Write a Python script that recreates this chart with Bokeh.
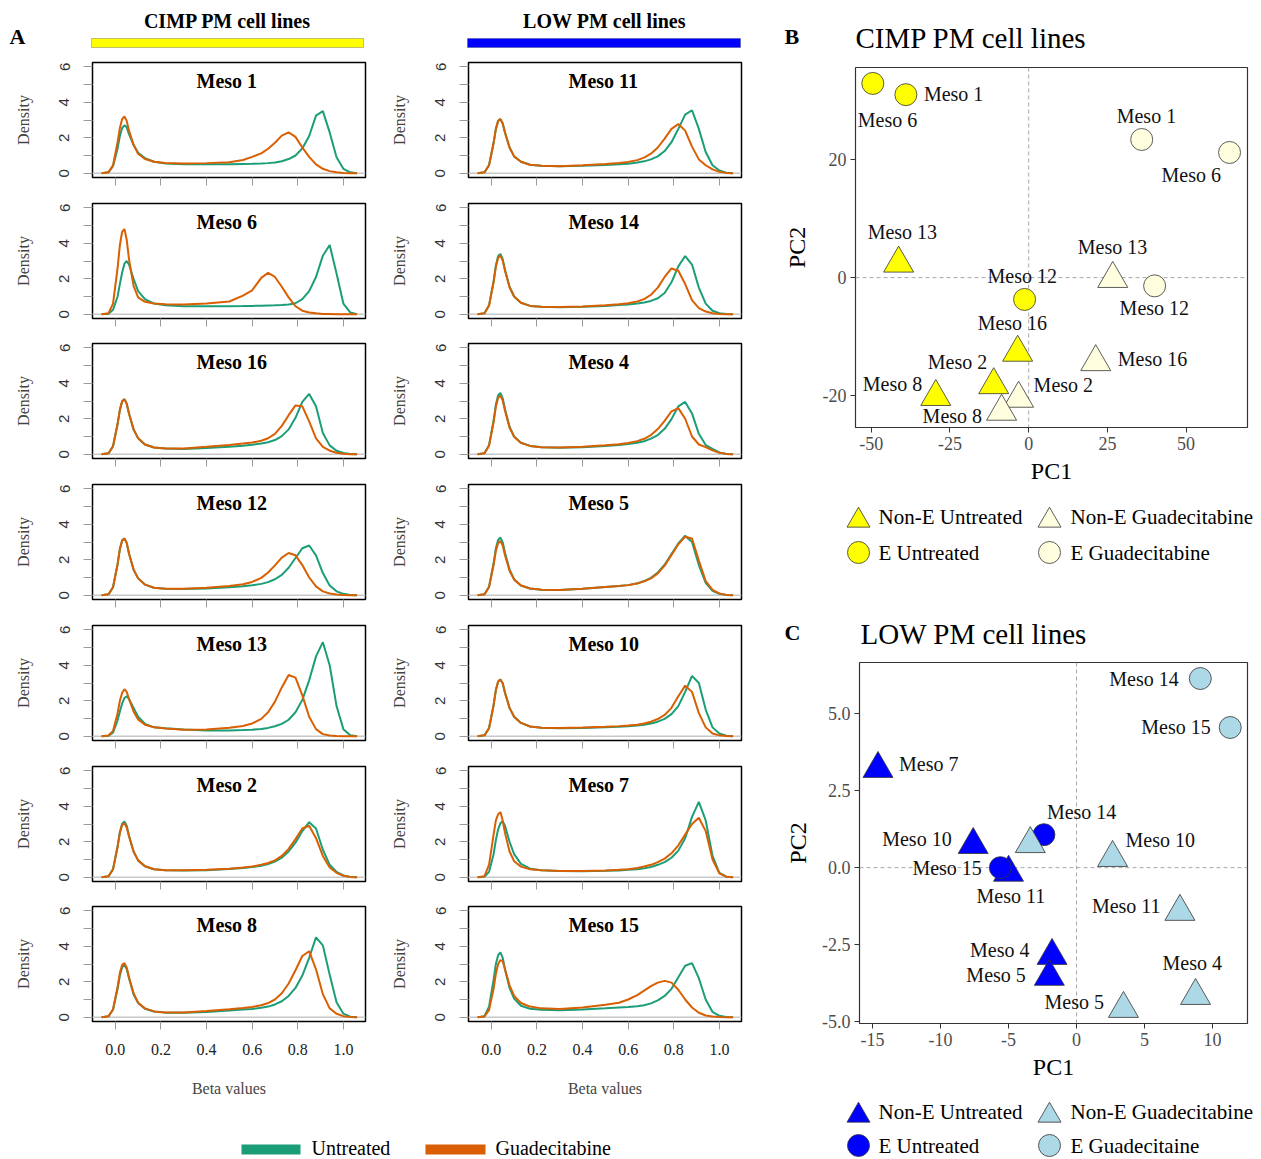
from bokeh.plotting import figure
from bokeh.layouts import row, column
from bokeh.models import (Range1d, FixedTicker, Span, Label, BoxAnnotation,
                          ColumnDataSource, NumeralTickFormatter)
from bokeh.core.properties import value
from bokeh.embed import file_html
from bokeh.resources import INLINE

SERIF = "Liberation Serif"
SANS = "Liberation Sans"
GREEN = "#1B9E77"
ORANGE = "#D95F02"

# ---------------- density data (beta value grid and densities) ----------------
beta = [-0.06, -0.03, -0.01, 0.01, 0.02, 0.03, 0.04, 0.05, 0.06, 0.08, 0.10, 0.13,
        0.17, 0.22, 0.30, 0.40, 0.50, 0.56, 0.60, 0.64, 0.67, 0.70, 0.73, 0.76,
        0.79, 0.82, 0.85, 0.88, 0.91, 0.94, 0.97, 1.00, 1.03, 1.06]

cimp_lines = ["Meso 1", "Meso 6", "Meso 16", "Meso 12", "Meso 13", "Meso 2", "Meso 8"]
low_lines = ["Meso 11", "Meso 14", "Meso 4", "Meso 5", "Meso 10", "Meso 7", "Meso 15"]

meso1_untreated = [0, 0.05, 0.4, 1.4, 2.1, 2.55, 2.7, 2.6, 2.2, 1.6, 1.15, 0.85, 0.65, 0.55, 0.5, 0.5, 0.5, 0.52, 0.53, 0.55, 0.57, 0.6, 0.68, 0.8, 1.0, 1.4, 2.1, 3.25, 3.5, 2.3, 0.9, 0.25, 0.05, 0]
meso1_guadecitabine = [0, 0.05, 0.45, 1.75, 2.55, 3.05, 3.2, 2.95, 2.4, 1.6, 1.1, 0.8, 0.65, 0.58, 0.55, 0.57, 0.62, 0.75, 0.92, 1.12, 1.38, 1.72, 2.12, 2.3, 2.05, 1.45, 0.92, 0.5, 0.25, 0.12, 0.05, 0.02, 0, 0]
meso6_untreated = [0, 0.03, 0.25, 1.0, 1.7, 2.35, 2.85, 3.0, 2.8, 2.0, 1.3, 0.85, 0.6, 0.5, 0.45, 0.45, 0.45, 0.46, 0.47, 0.48, 0.49, 0.5, 0.52, 0.55, 0.62, 0.85, 1.3, 2.1, 3.3, 3.9, 2.3, 0.6, 0.1, 0]
meso6_guadecitabine = [0, 0.05, 0.6, 2.6, 3.9, 4.65, 4.8, 4.2, 3.1, 1.6, 0.95, 0.7, 0.6, 0.56, 0.55, 0.6, 0.72, 1.05, 1.35, 2.05, 2.33, 2.1, 1.55, 0.95, 0.45, 0.2, 0.1, 0.05, 0.02, 0.01, 0, 0, 0, 0]
meso16_untreated = [0, 0.05, 0.45, 1.7, 2.5, 2.98, 3.1, 2.85, 2.3, 1.4, 0.9, 0.55, 0.38, 0.32, 0.3, 0.35, 0.42, 0.48, 0.53, 0.6, 0.68, 0.8, 1.02, 1.4, 2.05, 2.95, 3.4, 2.7, 1.2, 0.5, 0.2, 0.07, 0.02, 0]
meso16_guadecitabine = [0, 0.05, 0.45, 1.7, 2.5, 2.98, 3.1, 2.85, 2.3, 1.4, 0.9, 0.55, 0.38, 0.32, 0.33, 0.42, 0.52, 0.6, 0.66, 0.76, 0.9, 1.15, 1.6, 2.2, 2.75, 2.7, 1.85, 0.9, 0.42, 0.2, 0.08, 0.03, 0, 0]
meso12_untreated = [0, 0.05, 0.45, 1.75, 2.6, 3.08, 3.2, 2.95, 2.35, 1.45, 0.95, 0.6, 0.42, 0.37, 0.35, 0.38, 0.45, 0.5, 0.56, 0.64, 0.74, 0.9, 1.15, 1.55, 2.1, 2.65, 2.8, 2.25, 1.25, 0.55, 0.22, 0.08, 0.02, 0]
meso12_guadecitabine = [0, 0.05, 0.45, 1.75, 2.6, 3.08, 3.2, 2.95, 2.35, 1.45, 0.95, 0.6, 0.42, 0.37, 0.36, 0.42, 0.52, 0.62, 0.75, 0.98, 1.28, 1.68, 2.12, 2.38, 2.25, 1.7, 1.0, 0.5, 0.22, 0.1, 0.04, 0.01, 0, 0]
meso13_untreated = [0, 0.03, 0.2, 0.9, 1.4, 1.85, 2.15, 2.25, 2.1, 1.6, 1.1, 0.7, 0.5, 0.45, 0.38, 0.33, 0.33, 0.35, 0.37, 0.41, 0.47, 0.56, 0.7, 0.93, 1.35, 2.05, 3.15, 4.5, 5.3, 4.0, 1.7, 0.4, 0.05, 0]
meso13_guadecitabine = [0, 0.04, 0.3, 1.3, 2.0, 2.45, 2.65, 2.5, 2.1, 1.4, 0.95, 0.65, 0.5, 0.43, 0.37, 0.38, 0.48, 0.58, 0.72, 0.98, 1.35, 1.95, 2.75, 3.45, 3.3, 2.3, 1.1, 0.4, 0.12, 0.04, 0.01, 0, 0, 0]
meso2_untreated = [0, 0.05, 0.45, 1.75, 2.55, 3.02, 3.15, 2.9, 2.35, 1.45, 0.95, 0.62, 0.45, 0.4, 0.38, 0.4, 0.46, 0.52, 0.57, 0.65, 0.75, 0.88, 1.1, 1.45, 1.95, 2.6, 3.1, 2.75, 1.55, 0.7, 0.3, 0.1, 0.02, 0]
meso2_guadecitabine = [0, 0.05, 0.45, 1.7, 2.5, 2.95, 3.05, 2.8, 2.3, 1.45, 0.95, 0.62, 0.45, 0.4, 0.39, 0.42, 0.48, 0.55, 0.6, 0.7, 0.8, 0.95, 1.2, 1.6, 2.15, 2.75, 2.9, 2.2, 1.2, 0.55, 0.25, 0.08, 0.02, 0]
meso8_untreated = [0, 0.05, 0.42, 1.6, 2.35, 2.82, 2.95, 2.72, 2.2, 1.3, 0.8, 0.48, 0.32, 0.26, 0.25, 0.3, 0.38, 0.43, 0.47, 0.53, 0.6, 0.72, 0.9, 1.2, 1.65, 2.35, 3.35, 4.5, 4.05, 2.4, 0.85, 0.2, 0.03, 0]
meso8_guadecitabine = [0, 0.05, 0.45, 1.7, 2.5, 2.95, 3.05, 2.8, 2.25, 1.35, 0.82, 0.5, 0.33, 0.27, 0.27, 0.35, 0.45, 0.52, 0.58, 0.68, 0.8, 1.0, 1.35, 1.9, 2.65, 3.45, 3.72, 2.7, 1.3, 0.5, 0.2, 0.06, 0.01, 0]
meso11_untreated = [0, 0.05, 0.45, 1.7, 2.5, 2.95, 3.05, 2.8, 2.3, 1.45, 0.95, 0.65, 0.48, 0.42, 0.4, 0.42, 0.46, 0.5, 0.54, 0.6, 0.67, 0.78, 0.95, 1.25, 1.75, 2.5, 3.3, 3.55, 2.5, 1.2, 0.45, 0.15, 0.03, 0]
meso11_guadecitabine = [0, 0.05, 0.45, 1.7, 2.5, 2.95, 3.05, 2.8, 2.3, 1.45, 0.95, 0.65, 0.48, 0.42, 0.4, 0.45, 0.52, 0.58, 0.64, 0.74, 0.88, 1.1, 1.45, 1.95, 2.5, 2.77, 2.4, 1.5, 0.78, 0.45, 0.22, 0.08, 0.02, 0]
meso14_untreated = [0, 0.05, 0.5, 1.85, 2.75, 3.28, 3.4, 3.1, 2.5, 1.55, 1.0, 0.65, 0.47, 0.42, 0.4, 0.42, 0.47, 0.52, 0.55, 0.6, 0.66, 0.75, 0.9, 1.2, 1.8, 2.7, 3.28, 2.8, 1.5, 0.6, 0.2, 0.06, 0.01, 0]
meso14_guadecitabine = [0, 0.05, 0.48, 1.8, 2.68, 3.18, 3.3, 3.02, 2.45, 1.52, 1.0, 0.65, 0.47, 0.42, 0.41, 0.44, 0.5, 0.56, 0.62, 0.72, 0.85, 1.1, 1.5, 2.1, 2.58, 2.45, 1.7, 0.8, 0.35, 0.15, 0.06, 0.02, 0, 0]
meso4_untreated = [0, 0.05, 0.5, 1.9, 2.8, 3.32, 3.45, 3.15, 2.55, 1.55, 1.0, 0.65, 0.47, 0.4, 0.37, 0.4, 0.47, 0.52, 0.57, 0.65, 0.73, 0.88, 1.08, 1.43, 1.98, 2.7, 2.95, 2.3, 1.15, 0.52, 0.3, 0.1, 0.02, 0]
meso4_guadecitabine = [0, 0.05, 0.48, 1.8, 2.68, 3.18, 3.3, 3.02, 2.45, 1.5, 0.98, 0.64, 0.47, 0.4, 0.38, 0.42, 0.5, 0.56, 0.63, 0.74, 0.87, 1.08, 1.42, 1.88, 2.42, 2.6, 2.0, 1.0, 0.55, 0.4, 0.22, 0.08, 0.02, 0]
meso5_untreated = [0, 0.05, 0.48, 1.8, 2.65, 3.12, 3.25, 2.98, 2.4, 1.45, 0.9, 0.55, 0.38, 0.31, 0.3, 0.36, 0.46, 0.52, 0.57, 0.67, 0.8, 0.98, 1.28, 1.72, 2.32, 2.92, 3.35, 3.0, 1.7, 0.7, 0.25, 0.08, 0.02, 0]
meso5_guadecitabine = [0, 0.05, 0.45, 1.7, 2.5, 2.95, 3.05, 2.8, 2.25, 1.38, 0.88, 0.55, 0.38, 0.31, 0.3, 0.36, 0.46, 0.52, 0.57, 0.66, 0.78, 0.95, 1.23, 1.67, 2.27, 2.87, 3.3, 3.2, 1.95, 0.8, 0.3, 0.1, 0.02, 0]
meso10_untreated = [0, 0.05, 0.45, 1.75, 2.6, 3.08, 3.2, 2.98, 2.45, 1.6, 1.1, 0.75, 0.55, 0.48, 0.45, 0.47, 0.5, 0.53, 0.56, 0.6, 0.65, 0.72, 0.82, 0.98, 1.25, 1.7, 2.5, 3.4, 3.0, 1.5, 0.5, 0.15, 0.03, 0]
meso10_guadecitabine = [0, 0.05, 0.45, 1.75, 2.6, 3.08, 3.2, 2.98, 2.45, 1.6, 1.1, 0.75, 0.55, 0.48, 0.46, 0.49, 0.53, 0.57, 0.6, 0.65, 0.72, 0.82, 0.97, 1.2, 1.6, 2.25, 2.85, 2.5, 1.3, 0.5, 0.15, 0.05, 0.01, 0]
meso7_untreated = [0, 0.03, 0.3, 1.3, 2.1, 2.7, 3.05, 3.15, 2.9, 2.0, 1.3, 0.75, 0.48, 0.4, 0.35, 0.34, 0.36, 0.38, 0.42, 0.45, 0.5, 0.58, 0.7, 0.85, 1.1, 1.5, 2.2, 3.4, 4.25, 3.2, 1.2, 0.25, 0.03, 0]
meso7_guadecitabine = [0, 0.06, 0.7, 2.4, 3.2, 3.55, 3.67, 3.2, 2.5, 1.45, 0.9, 0.6, 0.45, 0.4, 0.35, 0.35, 0.38, 0.42, 0.45, 0.52, 0.6, 0.7, 0.85, 1.05, 1.35, 1.8, 2.4, 3.0, 3.35, 2.6, 1.0, 0.22, 0.03, 0]
meso15_untreated = [0, 0.06, 0.6, 2.1, 3.0, 3.5, 3.65, 3.35, 2.7, 1.65, 1.05, 0.65, 0.48, 0.42, 0.4, 0.43, 0.5, 0.55, 0.58, 0.62, 0.68, 0.78, 0.95, 1.2, 1.6, 2.25, 2.9, 3.05, 2.2, 1.0, 0.3, 0.08, 0.02, 0]
meso15_guadecitabine = [0, 0.04, 0.4, 1.6, 2.45, 3.0, 3.22, 3.15, 2.7, 1.8, 1.2, 0.8, 0.6, 0.5, 0.47, 0.55, 0.7, 0.82, 1.0, 1.25, 1.5, 1.75, 1.95, 2.05, 1.95, 1.55, 1.0, 0.55, 0.25, 0.1, 0.04, 0.01, 0, 0]

untreated_density = {
    "Meso 1": meso1_untreated, "Meso 6": meso6_untreated, "Meso 16": meso16_untreated,
    "Meso 12": meso12_untreated, "Meso 13": meso13_untreated, "Meso 2": meso2_untreated,
    "Meso 8": meso8_untreated, "Meso 11": meso11_untreated, "Meso 14": meso14_untreated,
    "Meso 4": meso4_untreated, "Meso 5": meso5_untreated, "Meso 10": meso10_untreated,
    "Meso 7": meso7_untreated, "Meso 15": meso15_untreated}
guadecitabine_density = {
    "Meso 1": meso1_guadecitabine, "Meso 6": meso6_guadecitabine, "Meso 16": meso16_guadecitabine,
    "Meso 12": meso12_guadecitabine, "Meso 13": meso13_guadecitabine, "Meso 2": meso2_guadecitabine,
    "Meso 8": meso8_guadecitabine, "Meso 11": meso11_guadecitabine, "Meso 14": meso14_guadecitabine,
    "Meso 4": meso4_guadecitabine, "Meso 5": meso5_guadecitabine, "Meso 10": meso10_guadecitabine,
    "Meso 7": meso7_guadecitabine, "Meso 15": meso15_guadecitabine}

# ---------------- PCA data ----------------
cimp_label = ["Meso 6", "Meso 1", "Meso 1", "Meso 6", "Meso 13", "Meso 13", "Meso 12",
              "Meso 12", "Meso 16", "Meso 16", "Meso 2", "Meso 2", "Meso 8", "Meso 8"]
cimp_type = ["E", "E", "E", "E", "Non-E", "Non-E", "E", "E", "Non-E", "Non-E",
             "Non-E", "Non-E", "Non-E", "Non-E"]
cimp_treatment = ["Untreated", "Untreated", "Guadecitabine", "Guadecitabine", "Untreated",
                  "Guadecitabine", "Untreated", "Guadecitabine", "Untreated", "Guadecitabine",
                  "Untreated", "Guadecitabine", "Untreated", "Guadecitabine"]
cimp_pc1 = [-49.5, -39.0, 35.9, 63.8, -41.3, 26.7, -1.3, 40.0, -3.5, 21.3, -11.1, -3.2, -29.5, -8.6]
cimp_pc2 = [32.9, 31.0, 23.4, 21.2, 2.4, -0.2, -3.7, -1.4, -12.7, -14.3, -18.2, -20.5, -20.2, -22.7]

low_label = ["Meso 14", "Meso 15", "Meso 7", "Meso 10", "Meso 7", "Meso 10", "Meso 11",
             "Meso 11", "Meso 4", "Meso 5", "Meso 5", "Meso 4", "Meso 14", "Meso 15"]
low_type = ["E", "E", "Non-E", "Non-E", "Non-E", "Non-E", "Non-E", "Non-E", "Non-E",
            "Non-E", "Non-E", "Non-E", "E", "E"]
low_treatment = ["Guadecitabine", "Guadecitabine", "Untreated", "Untreated", "Guadecitabine",
                 "Guadecitabine", "Untreated", "Guadecitabine", "Untreated", "Untreated",
                 "Guadecitabine", "Guadecitabine", "Untreated", "Untreated"]
low_pc1 = [9.1, 11.3, -14.6, -7.6, -3.4, 2.65, -5.0, 7.6, -1.8, -2.0, 3.45, 8.75, -2.4, -5.6]
low_pc2 = [6.14, 4.55, 3.21, 0.74, 0.77, 0.32, -0.16, -1.43, -2.86, -3.54, -4.58, -4.16, 1.07, 0.0]
low_label_shown = [True, True, True, True, False, True, True, True, True, True, True, True, True, True]

# label placement (pixel offsets from the point, repel-style)
cimp_label_dx = [-15, 18, -25, -68, -31, -35, -37, -35, -40, 22, -66, 15, -73, -79]
cimp_label_dy = [37, -1, -24, 23, -31, -32, -23, 22, -30, -3, -23, -14, -13, 4]
low_label_dx = [-91, -89, 21, -91, 0, 13, -32, -88, -82, -83, -79, -33, 3, -88]
low_label_dy = [0, 0, -5, -6, 0, -18, 23, -6, -6, -2, -7, -33, -23, 0]

# ---------------- helpers ----------------
def canvas(w, h):
    c = figure(width=w, height=h, x_range=Range1d(0, w), y_range=Range1d(h, 0),
               output_backend="svg", toolbar_location=None, min_border=0,
               x_axis_location=None, y_axis_location=None)
    c.outline_line_color = None
    c.xgrid.visible = False
    c.ygrid.visible = False
    return c


def add_text(c, x, y, text, size, bold=False, align="left", color="black", font=SERIF):
    c.add_layout(Label(x=x, y=y, text=text, text_font=font, text_font_size=f"{size}px",
                       text_font_style="bold" if bold else "normal", text_align=align,
                       text_baseline="middle", text_color=color))


X0, X1 = -0.10, 1.097
Y0, Y1 = -0.24, 6.24
FRAME_H = 115
TOP_B = 7
ROW_H = [141, 140, 141, 141, 141, 140, 226]
TICK_GRAY = "#9A9A9A"


def density_panel(name, side, row_h, last):
    if side == "left":
        w, bl, br, tdx = 380, 92, 15, 104
    else:
        w, bl, br, tdx = 390, 88, 29, 100
    p = figure(width=w, height=row_h, x_range=Range1d(X0, X1), y_range=Range1d(Y0, Y1),
               output_backend="svg", toolbar_location=None,
               min_border_left=bl, min_border_right=br, min_border_top=TOP_B,
               min_border_bottom=row_h - TOP_B - FRAME_H)
    p.xgrid.visible = False
    p.ygrid.visible = False
    p.outline_line_color = "black"
    p.outline_line_width = 1.5
    p.add_layout(Span(location=0, dimension="width", line_color="#C8C8C8",
                      line_width=1.5, level="underlay"))
    p.line(beta, untreated_density[name], line_color=GREEN, line_width=2)
    p.line(beta, guadecitabine_density[name], line_color=ORANGE, line_width=2)
    p.add_layout(Label(x=X0 + tdx * (X1 - X0) / 273.0, y=Y1 - 19 / 17.75, text=name,
                       text_font=SERIF, text_font_size="20px", text_font_style="bold",
                       text_align="left", text_baseline="middle", text_color="black"))
    # y axis: labelled ticks at even values, unlabelled ticks at odd values
    ya = p.yaxis[0]
    ya.ticker = FixedTicker(ticks=[0, 2, 4, 6], minor_ticks=[1, 3, 5])
    ya.axis_line_color = None
    ya.major_tick_line_color = TICK_GRAY
    ya.minor_tick_line_color = TICK_GRAY
    ya.major_tick_out = 9
    ya.major_tick_in = 0
    ya.minor_tick_out = 9
    ya.minor_tick_in = 0
    ya.major_label_orientation = "vertical"
    ya.major_label_text_font = SANS
    ya.major_label_text_font_size = "15px"
    ya.major_label_text_color = "#333333"
    ya.major_label_standoff = 14
    ya.axis_label = "Density"
    ya.axis_label_text_font = SERIF
    ya.axis_label_text_font_size = "16px"
    ya.axis_label_text_font_style = "normal"
    ya.axis_label_standoff = 25
    # x axis
    xa = p.xaxis[0]
    xa.axis_line_color = None
    xa.major_tick_line_color = TICK_GRAY
    xa.minor_tick_line_color = TICK_GRAY
    xa.major_tick_out = 8
    xa.major_tick_in = 0
    xa.minor_tick_out = 8
    xa.minor_tick_in = 0
    if last:
        xa.ticker = FixedTicker(ticks=[0.0, 0.2, 0.4, 0.6, 0.8, 1.0])
        xa.formatter = NumeralTickFormatter(format="0.0")
        xa.major_label_text_font = SERIF
        xa.major_label_text_font_size = "16px"
        xa.major_label_text_color = "#222222"
        xa.major_label_standoff = 14
        xa.axis_label = "Beta values"
        xa.axis_label_text_font = SERIF
        xa.axis_label_text_font_size = "16px"
        xa.axis_label_text_font_style = "normal"
        xa.axis_label_standoff = 22
    else:
        # tick marks only, no labels
        xa.ticker = FixedTicker(ticks=[], minor_ticks=[0.0, 0.2, 0.4, 0.6, 0.8, 1.0])
    return p


# ---------------- left block (panel A) ----------------
headA = canvas(770, 55)
add_text(headA, 9, 36, "A", 22, bold=True)
add_text(headA, 227, 20, "CIMP PM cell lines", 20, bold=True, align="center")
add_text(headA, 604, 20, "LOW PM cell lines", 20, bold=True, align="center")
headA.add_layout(BoxAnnotation(left=91, right=363, top=38, bottom=47, fill_color="#FFFF00",
                               fill_alpha=1, line_color="#333333", line_width=1))
headA.add_layout(BoxAnnotation(left=467, right=740, top=38, bottom=47, fill_color="#0000FF",
                               fill_alpha=1, line_color="#333333", line_width=1))

rows = []
for k in range(7):
    last = (k == 6)
    lp = density_panel(cimp_lines[k], "left", ROW_H[k], last)
    rp = density_panel(low_lines[k], "right", ROW_H[k], last)
    rows.append(row(lp, rp, spacing=0))

legA = canvas(770, 34)
legA.add_layout(BoxAnnotation(left=241, right=300, top=19, bottom=29, fill_color=GREEN,
                              fill_alpha=1, line_color=None))
add_text(legA, 311, 22, "Untreated", 20)
legA.add_layout(BoxAnnotation(left=425, right=485, top=19, bottom=29, fill_color=ORANGE,
                              fill_alpha=1, line_color=None))
add_text(legA, 495, 22, "Guadecitabine", 20)

left_block = column(row(headA), *rows, row(legA), spacing=0)


# ---------------- right block (panels B, C) ----------------
def pca_panel(pc1, pc2, kinds, treats, labels, shown, dx, dy, palette, xr, yr,
              xticks, yticks, yfmt, bl, bb, ylab_standoff):
    p = figure(width=491, height=430, x_range=Range1d(*xr), y_range=Range1d(*yr),
               output_backend="svg", toolbar_location=None,
               min_border_left=bl, min_border_right=14, min_border_top=7, min_border_bottom=bb)
    p.xgrid.visible = False
    p.ygrid.visible = False
    p.outline_line_color = "#333333"
    p.outline_line_width = 1.2
    p.add_layout(Span(location=0, dimension="height", line_color="#A8A8A8",
                      line_dash="4 3", line_width=1, level="underlay"))
    p.add_layout(Span(location=0, dimension="width", line_color="#A8A8A8",
                      line_dash="4 3", line_width=1, level="underlay"))
    for kind, treat in [("Non-E", "Untreated"), ("E", "Untreated"),
                        ("Non-E", "Guadecitabine"), ("E", "Guadecitabine")]:
        idx = [i for i in range(len(pc1)) if kinds[i] == kind and treats[i] == treat]
        src = ColumnDataSource(dict(x=[pc1[i] for i in idx], y=[pc2[i] for i in idx]))
        p.scatter("x", "y", source=src, marker="triangle" if kind == "Non-E" else "circle",
                  size=30 if kind == "Non-E" else 22, fill_color=palette[treat],
                  line_color="#333333", line_width=0.8)
    idx = [i for i in range(len(pc1)) if shown[i]]
    tsrc = ColumnDataSource(dict(x=[pc1[i] for i in idx], y=[pc2[i] for i in idx],
                                 t=[labels[i] for i in idx], dx=[dx[i] for i in idx],
                                 dy=[dy[i] for i in idx]))
    p.text("x", "y", text="t", x_offset="dx", y_offset="dy", source=tsrc,
           text_font=value(SERIF), text_font_size="20px", text_align="left",
           text_baseline="middle", text_color="#111111")
    p.xaxis.ticker = FixedTicker(ticks=xticks)
    p.yaxis.ticker = FixedTicker(ticks=yticks)
    p.xaxis.formatter = NumeralTickFormatter(format="0")
    p.yaxis.formatter = NumeralTickFormatter(format=yfmt)
    for ax in (p.xaxis[0], p.yaxis[0]):
        ax.axis_line_color = None
        ax.major_tick_line_color = "#333333"
        ax.major_tick_out = 5
        ax.major_tick_in = 0
        ax.minor_tick_line_color = None
        ax.major_label_text_font = SERIF
        ax.major_label_text_font_size = "18px"
        ax.major_label_text_color = "#4D4D4D"
        ax.axis_label_text_font = SERIF
        ax.axis_label_text_font_size = "24px"
        ax.axis_label_text_font_style = "normal"
        ax.axis_label_text_color = "black"
    p.xaxis[0].axis_label = "PC1"
    p.yaxis[0].axis_label = "PC2"
    p.xaxis[0].major_label_standoff = 4
    p.xaxis[0].axis_label_standoff = 5
    p.yaxis[0].major_label_standoff = 4
    p.yaxis[0].axis_label_standoff = ylab_standoff
    return p


def pca_legend(h, y1, y2, c_untr, c_guad, guad_text):
    c = canvas(491, h)
    c.scatter(x=[88], y=[y1 + 4], marker="triangle", size=23, fill_color=c_untr,
              line_color="#333333", line_width=0.8)
    c.scatter(x=[279], y=[y1 + 4], marker="triangle", size=23, fill_color=c_guad,
              line_color="#333333", line_width=0.8)
    c.scatter(x=[88], y=[y2], marker="circle", size=22, fill_color=c_untr,
              line_color="#333333", line_width=0.8)
    c.scatter(x=[279], y=[y2], marker="circle", size=22, fill_color=c_guad,
              line_color="#333333", line_width=0.8)
    add_text(c, 108, y1, "Non-E Untreated", 21)
    add_text(c, 300, y1, "Non-E Guadecitabine", 21)
    add_text(c, 108, y2, "E Untreated", 21)
    add_text(c, 300, y2, guad_text, 21)
    return c


headB = canvas(491, 60)
add_text(headB, 14, 36, "B", 22, bold=True)
add_text(headB, 85, 37, "CIMP PM cell lines", 29)

pcaB = pca_panel(cimp_pc1, cimp_pc2, cimp_type, cimp_treatment, cimp_label,
                 [True] * len(cimp_pc1), cimp_label_dx, cimp_label_dy,
                 {"Untreated": "#FFFF00", "Guadecitabine": "#FFFFE0"},
                 (-55, 69.5), (-25.4, 35.6), [-50, -25, 0, 25, 50], [-20, 0, 20], "0",
                 85, 63, 10)
legB = pca_legend(90, 26, 62, "#FFFF00", "#FFFFE0", "E Guadecitabine")

headC = canvas(491, 75)
add_text(headC, 14, 52, "C", 22, bold=True)
add_text(headC, 90, 53, "LOW PM cell lines", 29)

pcaC = pca_panel(low_pc1, low_pc2, low_type, low_treatment, low_label, low_label_shown,
                 low_label_dx, low_label_dy,
                 {"Untreated": "#0000FF", "Guadecitabine": "#ADD8E6"},
                 (-15.96, 12.57), (-5.06, 6.66), [-15, -10, -5, 0, 5, 10],
                 [-5, -2.5, 0, 2.5, 5], "0.0", 89, 62, 8)
legC = pca_legend(74, 26, 60, "#0000FF", "#ADD8E6", "E Guadecitaine")

# each child wrapped in its own row so that frames are not aligned across the column
right_block = column(row(headB), row(pcaB), row(legB), row(headC), row(pcaC), row(legC),
                     spacing=0)

layout = row(left_block, right_block, spacing=0)

open("out.html", "w").write(file_html(layout, INLINE, "Methylation density and PCA"))
